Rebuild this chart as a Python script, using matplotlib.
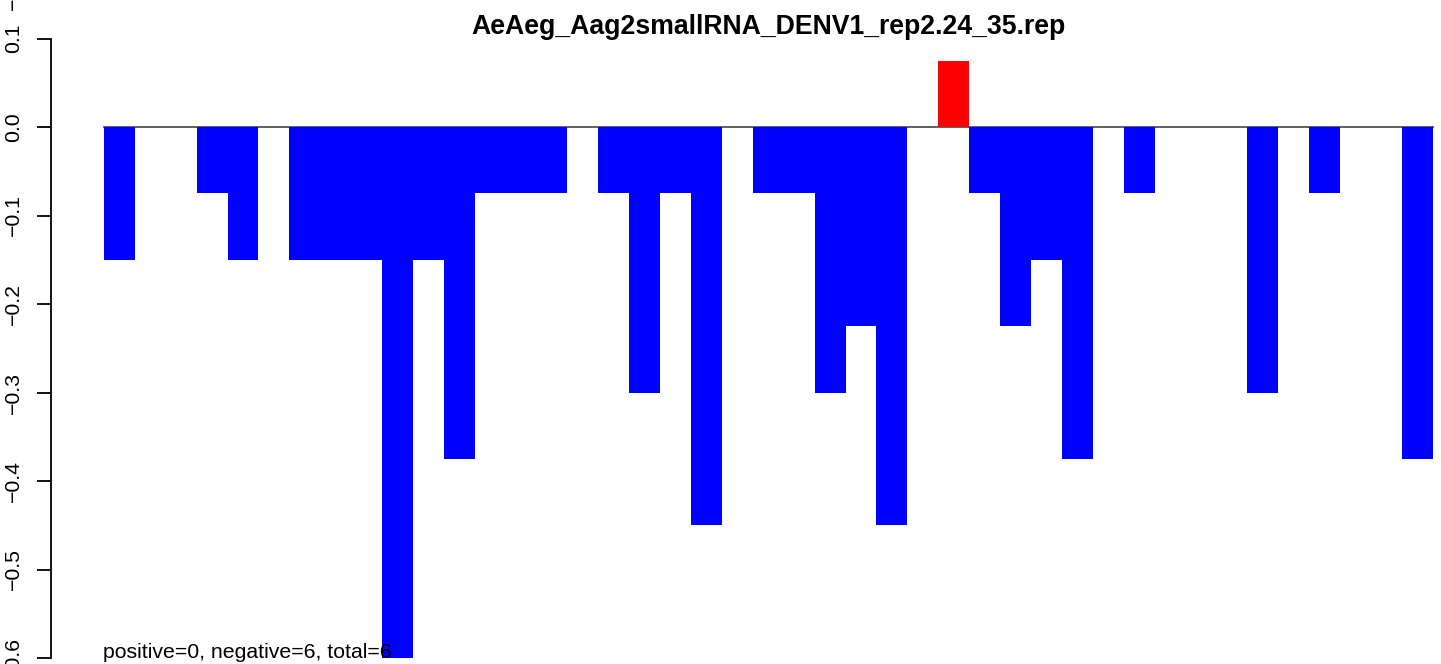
import numpy as np
import matplotlib.pyplot as plt

plt.rcParams['font.family'] = ['Liberation Sans', 'DejaVu Sans']

title = "AeAeg_Aag2smallRNA_DENV1_rep2.24_35.rep"
note = "positive=0, negative=6, total=6"
values = [-0.15, 0, 0, -0.075, -0.15, 0, -0.15, -0.15, -0.15, -0.6,
          -0.15, -0.375, -0.075, -0.075, -0.075, 0, -0.075, -0.3, -0.075, -0.45,
          0, -0.075, -0.075, -0.3, -0.225, -0.45, 0, 0.075, -0.075, -0.225,
          -0.15, -0.375, 0, -0.075, 0, 0, 0, -0.3, 0, -0.075,
          0, 0, -0.375]
yticks = [0.1, 0.0, -0.1, -0.2, -0.3, -0.4, -0.5, -0.6]

W, H = 1441, 664
fig = plt.figure(figsize=(W / 100, H / 100), dpi=100)
ax = fig.add_axes([51 / W, 0, (W - 51) / W, 1])

# pixel mapping: bars start at 104px, 30.9px each; y=0 at 127px, 885px per unit
bw = 30.9
ax.set_xlim((51 - 104) / bw, (W - 104) / bw)
ax.set_ylim((127 - H) / 885, 127 / 885)

x = np.arange(len(values))
cols = ['#FF0000' if v > 0 else '#0000FF' for v in values]
ax.plot([0, len(values)], [0, 0], color='#555555', lw=1.3, zorder=1)
ax.bar(x, values, width=1, align='edge', color=cols, linewidth=0, zorder=2)

for s in ['top', 'right', 'bottom']:
    ax.spines[s].set_visible(False)
ax.spines['left'].set_bounds(-0.6, 0.1)
ax.spines['left'].set_linewidth(1.3)
ax.set_xticks([])
ax.set_yticks(yticks)
ax.set_yticklabels([f"{t:.1f}".replace('-', '\u2212') if t != 0 else "0.0" for t in yticks],
                   rotation=90, va='center', fontsize=15.3)
ax.tick_params(axis='y', length=10, width=1.3, pad=10)

fig.text(768 / W, 1 - 27 / H, title, ha='center', va='center', fontsize=19.2, fontweight='bold')
fig.text(103 / W, 1 - 658 / H, note, ha='left', va='baseline', fontsize=15.3, zorder=5)
# leftover label from the panel above
fig.text(13 / W, 1 - 10 / H, "\u22120.6", rotation=90, ha='center', va='bottom', fontsize=15.3)

fig.savefig('out.png', dpi=100)
